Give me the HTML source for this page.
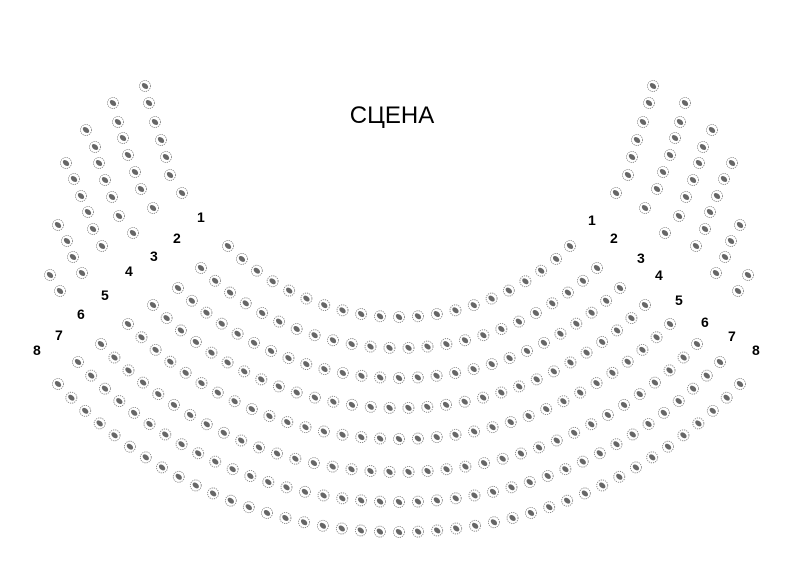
<!DOCTYPE html>
<html><head><meta charset="utf-8"><style>
html,body{margin:0;padding:0;background:#fff;width:800px;height:567px;overflow:hidden}
svg{display:block}
.lbl{font-family:"Liberation Sans",sans-serif;font-size:14px;font-weight:bold;fill:#000}
</style></head><body>
<svg id="s" width="800" height="567" xmlns="http://www.w3.org/2000/svg">
<text x="392" y="123" text-anchor="middle" style="font-family:'Liberation Sans',sans-serif;font-size:24px;fill:#000">СЦЕНА</text>
<text class="lbl" x="197" y="222">1</text>
<text class="lbl" x="173" y="243">2</text>
<text class="lbl" x="150" y="261">3</text>
<text class="lbl" x="125" y="276">4</text>
<text class="lbl" x="101" y="300">5</text>
<text class="lbl" x="77" y="319">6</text>
<text class="lbl" x="55" y="340">7</text>
<text class="lbl" x="33" y="355">8</text>
<text class="lbl" x="588" y="225">1</text>
<text class="lbl" x="610" y="243">2</text>
<text class="lbl" x="637" y="263">3</text>
<text class="lbl" x="655" y="280">4</text>
<text class="lbl" x="675" y="305">5</text>
<text class="lbl" x="701" y="327">6</text>
<text class="lbl" x="728" y="341">7</text>
<text class="lbl" x="752" y="355">8</text>
<g id="g"></g>
</svg>
<script>
var g=document.getElementById('g'),ns='http://www.w3.org/2000/svg',AX=798;
function seat(x,y){
 var c=document.createElementNS(ns,'circle');c.setAttribute('cx',x);c.setAttribute('cy',y);c.setAttribute('r',5.5);
 c.setAttribute('fill','none');c.setAttribute('stroke','#777');c.setAttribute('stroke-width','0.8');c.setAttribute('stroke-dasharray','1.2 1');g.appendChild(c);
 var d=document.createElementNS(ns,'ellipse');d.setAttribute('cx',x);d.setAttribute('cy',y);d.setAttribute('rx',3.6);d.setAttribute('ry',2.4);
 d.setAttribute('fill','#666');d.setAttribute('transform','rotate(40 '+x+' '+y+')');g.appendChild(d);
}
var rows=[[228,246,317],[201,268,348],[178,288,378],[153,305,408],[128,324,439],[101,344,472],[78,362,502],[58,384,532]];
rows.forEach(function(r){
 var xl=r[0],yl=r[1],yb=r[2],cx=AX/2,dx=cx-xl;
 var cy=(dx*dx+yl*yl-yb*yb)/(2*(yl-yb));var R=yb-cy;
 var a=Math.asin(dx/R);var n=Math.round(2*a*R/19);
 for(var i=0;i<=n;i++){var t=-a+2*a*i/n;seat(cx-R*Math.sin(t),cy+R*Math.cos(t));}
});
var wings=[
[[145,86],[149,103],[155,122],[161,140],[166,157],[170,175],[182,193]],
[[113,103],[118,122],[123,138],[128,155],[135,172],[141,189],[153,208]],
[[86,130],[95,147],[99,163],[105,180],[112,197],[119,216],[133,233]],
[[66,163],[74,179],[81,196],[88,212],[93,229],[102,246]],
[[58,225],[67,241],[73,257],[82,273]],
[[50,275],[60,291]]];
wings.forEach(function(w){w.forEach(function(p){seat(p[0],p[1]);seat(AX-p[0],p[1]);});});
</script>
</body></html>
